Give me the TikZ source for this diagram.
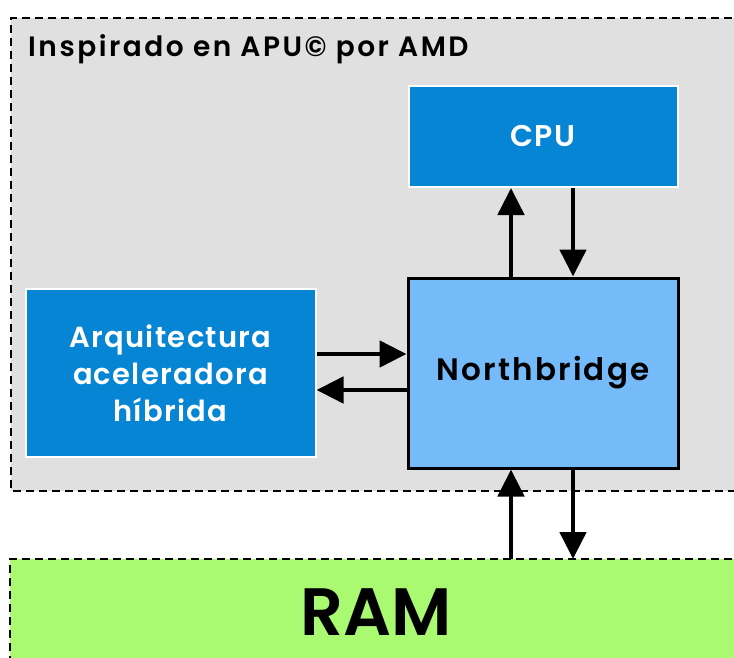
\documentclass[tikz,border=0pt]{standalone}
\usepackage{fontspec}
\setmainfont{Poppins}[BoldFont={* SemiBold}]
\usetikzlibrary{arrows.meta}
\definecolor{zonegrey}{HTML}{E0E0E0}
\definecolor{unitblue}{HTML}{0585D3}
\definecolor{bridgeblue}{HTML}{75BAF9}
\definecolor{ramgreen}{HTML}{A9F971}
\newcommand{\track}[1]{\addfontfeature{LetterSpace=#1}}
\tikzset{
  zone/.style={draw=black, dashed, dash pattern=on 8pt off 5pt, line width=2.5pt},
  unit/.style={draw=white, line width=2pt, fill=unitblue, text=white, align=center, inner sep=0pt},
  bridge/.style={draw=black, line width=3pt, fill=bridgeblue, inner sep=0pt},
  bus/.style={line width=4.8pt, -{Triangle[length=27pt,width=26pt]}},
}
\begin{document}
\begin{tikzpicture}[x=1pt,y=-1pt]
\useasboundingbox (0,0) rectangle (734,658);
% on-chip package zone
\fill[zonegrey] (11,18) rectangle (745,491);
\draw[zone] (745,18) -- (11,18) -- (11,491) -- (745,491);
\node[anchor=base west, font=\bfseries\fontsize{28}{30}\selectfont\track{9}, inner sep=0pt] (title) at (28,57) {Inspirado en APU\textcopyright{} por AMD};
% memory zone
\fill[ramgreen] (10,559) rectangle (745,670);
\draw[zone] (745,559) -- (10,559) -- (10,670);
\node[font=\bfseries\fontsize{67}{70}\selectfont, anchor=base, inner sep=0pt] (ram) at (376,635) {RAM};
\coordinate (ramtop) at (376,559);
% blocks
\node[unit, minimum width=269pt, minimum height=101pt, font=\bfseries\fontsize{30}{36}\selectfont\track{5}] (cpu) at (543,136.5) {CPU};
\node[bridge, minimum width=270pt, minimum height=190pt, font=\bfseries\fontsize{31}{36}\selectfont\track{7}] (nb) at (543,373) {Northbridge};
\node[unit, minimum width=290pt, minimum height=168pt, font=\bfseries\fontsize{29}{37}\selectfont\track{4.5}] (hsa) at (170.5,373) {Arquitectura\\aceleradora\\híbrida};
% buses
\draw[bus] (nb.north -| 511,0) -- (cpu.south -| 511,0);
\draw[bus] (cpu.south -| 573,0) -- (nb.north -| 573,0);
\draw[bus] (hsa.east |- 0,354) -- (nb.west |- 0,354);
\draw[bus] (nb.west |- 0,390) -- (hsa.east |- 0,390);
\draw[bus] (ramtop -| 511,0) -- (nb.south -| 511,0);
\draw[bus] (nb.south -| 573,0) -- (ramtop -| 573,0);
\end{tikzpicture}
\end{document}
